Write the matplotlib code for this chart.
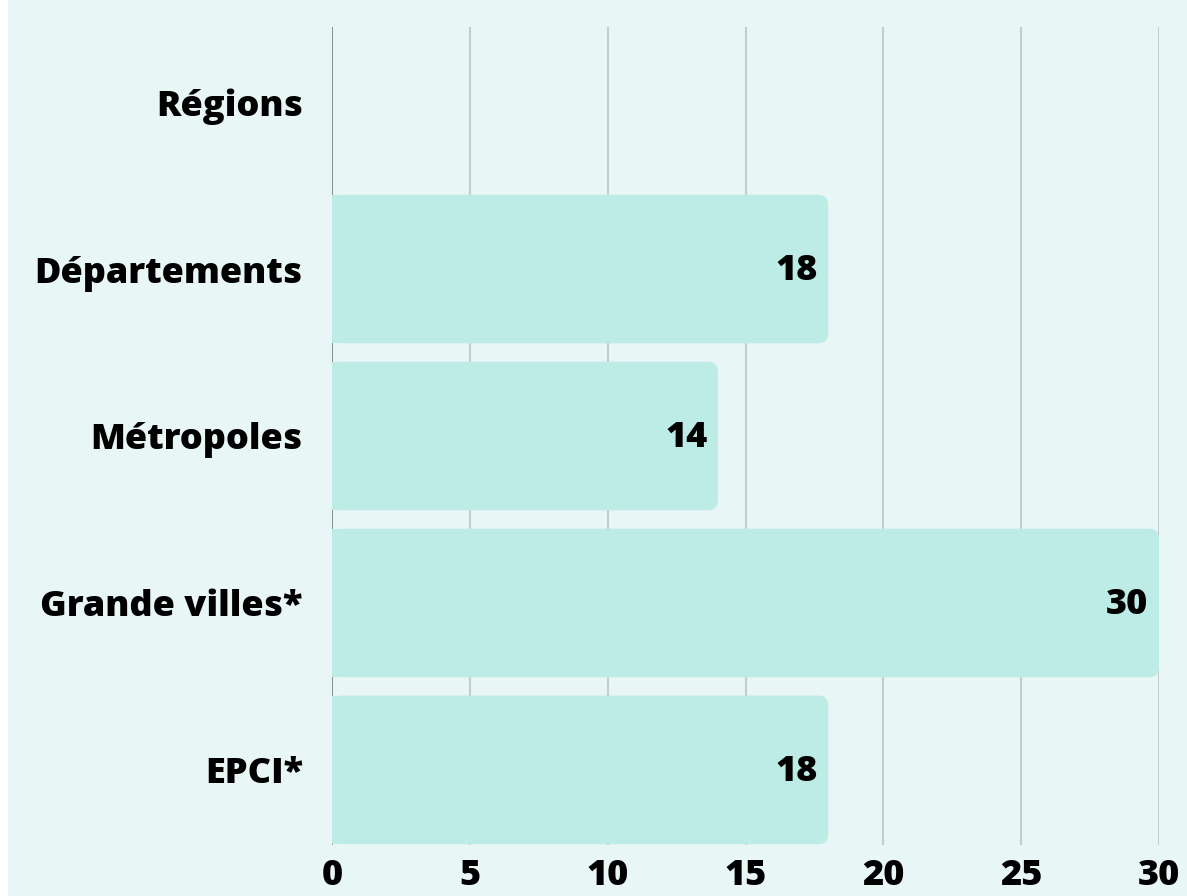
import matplotlib.pyplot as plt
from matplotlib.patches import FancyBboxPatch, Rectangle

categories = ["Régions", "Départements", "Métropoles", "Grande villes*", "EPCI*"]
values = [0, 18, 14, 30, 18]
xticks = [0, 5, 10, 15, 20, 25, 30]

BG = "#e9f6f6"
BAR = "#bdebe5"
FONT = ["Open Sans", "DejaVu Sans"]
FS = 26
WEIGHT = 800


def main():
    fig = plt.figure(figsize=(11.87, 8.96), dpi=100)
    fig.patch.set_facecolor("white")
    # light panel behind everything, small white strip on the left
    fig.patches.append(Rectangle((8 / 1187, 0), 1 - 8 / 1187, 1, transform=fig.transFigure,
                                 facecolor=BG, edgecolor="none", zorder=-10))
    ax = fig.add_axes([332 / 1187, 51 / 896, (1159 - 332) / 1187, (869 - 51) / 896])
    ax.set_facecolor("none")

    ypos = list(range(len(categories)))
    h = 0.89
    rx = 0.36  # corner radius in x data units
    ry = 0.06
    bars = ax.barh(ypos, values, height=h, color=BAR, zorder=2)
    for b, v in zip(bars, values):
        if v <= 0:
            b.set_visible(False)
            continue
        x0, y0 = b.get_x(), b.get_y()
        w, hh = b.get_width(), b.get_height()
        b.set_width(w - 2 * rx)
        ax.add_patch(FancyBboxPatch((x0, y0), w, hh,
                                    boxstyle="round,pad=0,rounding_size=%f" % rx,
                                    mutation_aspect=ry / rx,
                                    facecolor=BAR, edgecolor="none", zorder=2))
        ax.text(v - 0.38, b.get_y() + hh / 2 + 0.01, str(v), ha="right", va="center",
                fontsize=FS, fontweight=WEIGHT, family=FONT, zorder=3)

    ax.set_xlim(0, 30)
    ax.set_ylim(len(categories) - 0.55, -0.45)
    ax.set_xticks(xticks)
    ax.set_xticklabels([str(t) for t in xticks], fontsize=FS, fontweight=WEIGHT, family=FONT)
    ax.set_yticks(ypos)
    ax.set_yticklabels(categories, fontsize=FS, fontweight=WEIGHT, family=FONT)
    ax.tick_params(length=0)
    ax.tick_params(axis="y", pad=21)
    ax.tick_params(axis="x", pad=9)
    for t in xticks:
        ax.axvline(t, color="#6f7f7f" if t == 0 else "#c3cdcd", lw=1.5 if t else 1.2, zorder=1)
    for s in ax.spines.values():
        s.set_visible(False)

    fig.savefig("out.png", dpi=100, facecolor=fig.get_facecolor())


if __name__ == "__main__":
    main()
